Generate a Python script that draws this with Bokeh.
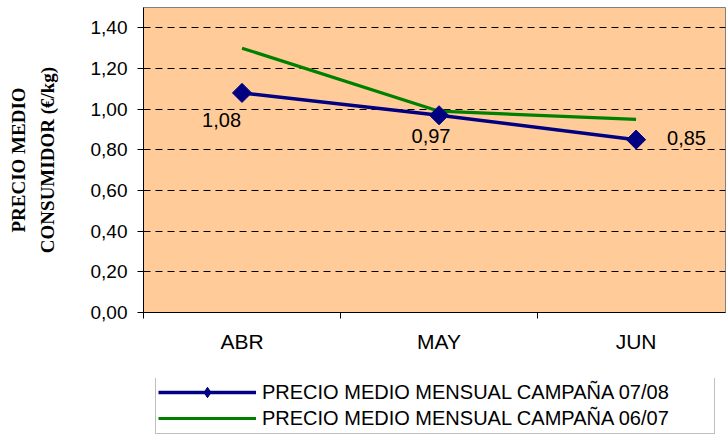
from bokeh.plotting import figure
from bokeh.layouts import column
from bokeh.models import Range1d, FixedTicker, ColumnDataSource, Legend, LegendItem
from bokeh.embed import file_html
from bokeh.resources import INLINE
from bokeh.core.properties import value
import math

# ---- data ----
months = ["ABR", "MAY", "JUN"]
precio_0708 = [1.08, 0.97, 0.85]
precio_0607 = [1.30, 0.99, 0.95]
etiquetas_0708 = ["1,08", "0,97", "0,85"]
y_ticks = [0.0, 0.2, 0.4, 0.6, 0.8, 1.0, 1.2, 1.4]
y_tick_labels = ["0,00", "0,20", "0,40", "0,60", "0,80", "1,00", "1,20", "1,40"]
serie_0708 = "PRECIO MEDIO MENSUAL CAMPAÑA 07/08"
serie_0607 = "PRECIO MEDIO MENSUAL CAMPAÑA 06/07"
y_title = "PRECIO MEDIO\nCONSUMIDOR (€/kg)"

# ---- styling ----
label_dx = [-1, -8, 31]
label_dy = [27, 21, -2]
label_align = ["right", "center", "left"]
FONT = "Liberation Sans"
BLUE = "#000080"
GREEN = "#008000"

xc = [i + 0.5 for i in range(len(months))]

src_a = ColumnDataSource(dict(x=xc, y=precio_0708, lab=etiquetas_0708,
                              dx=label_dx, dy=label_dy, al=label_align))
src_b = ColumnDataSource(dict(x=xc, y=precio_0607))

p = figure(width=727, height=378, output_backend="svg", toolbar_location=None,
           x_range=Range1d(0, 2.954), y_range=Range1d(0, 1.5),
           min_border_left=143, min_border_right=2, min_border_top=7,
           min_border_bottom=66)

p.background_fill_color = "#FFCC99"
p.border_fill_color = "white"
p.outline_line_color = "#808080"
p.outline_line_width = 1

# axes
p.xaxis.ticker = FixedTicker(ticks=xc, minor_ticks=list(range(len(months) + 1)))
p.xaxis.major_label_overrides = {x: m for x, m in zip(xc, months)}
p.xaxis.major_tick_line_color = None
p.xaxis.major_tick_out = 6
p.xaxis.major_tick_in = 0
p.xaxis.minor_tick_out = 6
p.xaxis.minor_tick_in = 0
p.xaxis.minor_tick_line_color = "black"
p.xaxis.major_label_standoff = 11
p.xaxis.major_label_text_font = FONT
p.xaxis.major_label_text_font_size = "21px"
p.xaxis.major_label_text_color = "black"
p.xaxis.axis_line_color = "black"

p.yaxis.ticker = FixedTicker(ticks=y_ticks, minor_ticks=[])
p.yaxis.major_label_overrides = {t: l for t, l in zip(y_ticks, y_tick_labels)}
p.yaxis.major_tick_out = 6
p.yaxis.major_tick_in = 0
p.yaxis.major_tick_line_color = "black"
p.yaxis.major_label_standoff = 10
p.yaxis.major_label_text_font = FONT
p.yaxis.major_label_text_font_size = "19px"
p.yaxis.major_label_text_color = "black"
p.yaxis.axis_line_color = "black"
p.yaxis.axis_label = y_title
p.yaxis.axis_label_text_font = "Liberation Serif"
p.yaxis.axis_label_text_font_style = "bold"
p.yaxis.axis_label_text_font_size = "19px"
p.yaxis.axis_label_text_color = "black"
p.yaxis.axis_label_standoff = 30
p.yaxis.axis_label_text_line_height = 1.35

p.xgrid.grid_line_color = None
p.ygrid.ticker = FixedTicker(ticks=y_ticks[1:])
p.ygrid.grid_line_color = "black"
p.ygrid.grid_line_dash = "7 5"
p.ygrid.grid_line_width = 1

# series
p.line("x", "y", source=src_b, line_color=GREEN, line_width=3.2)
p.line("x", "y", source=src_a, line_color=BLUE, line_width=3.5)
p.scatter("x", "y", source=src_a, marker="square", angle=math.pi / 4,
          size=13.5, fill_color=BLUE, line_color=BLUE)

p.text("x", "y", text="lab", source=src_a, x_offset="dx", y_offset="dy",
       text_align="al", text_baseline="middle",
       text_font=value(FONT), text_font_size="20px", text_color="black")

# ---- legend strip (separate figure below the chart) ----
q = figure(width=727, height=59, output_backend="svg", toolbar_location=None,
           x_range=Range1d(0, 2.954), y_range=Range1d(0, 1.5),
           x_axis_location=None, y_axis_location=None,
           min_border_left=0, min_border_right=0, min_border_top=0, min_border_bottom=0)
q.grid.visible = False
q.outline_line_color = None
q.background_fill_color = "white"
q.border_fill_color = "white"

qa = q.line("x", "y", source=src_a, line_color=BLUE, line_width=3.5, visible=False)
qs = q.scatter("x", "y", source=src_a, marker="diamond",
               size=14, fill_color=BLUE, line_color=BLUE, visible=False)
qb = q.line("x", "y", source=src_b, line_color=GREEN, line_width=3.2, visible=False)

legend = Legend(items=[LegendItem(label=serie_0708, renderers=[qa, qs]),
                       LegendItem(label=serie_0607, renderers=[qb])],
                location=(12, 3), orientation="vertical",
                glyph_width=98, glyph_height=26, label_height=26, label_width=450,
                label_standoff=6, spacing=0, padding=2, margin=0,
                border_line_color="#808080", border_line_width=1,
                background_fill_color="white", background_fill_alpha=1,
                label_text_font=FONT, label_text_font_size="20px",
                label_text_color="black")
q.add_layout(legend, "center")

layout = column(p, q, spacing=0)
open("out.html", "w").write(file_html(layout, INLINE))
